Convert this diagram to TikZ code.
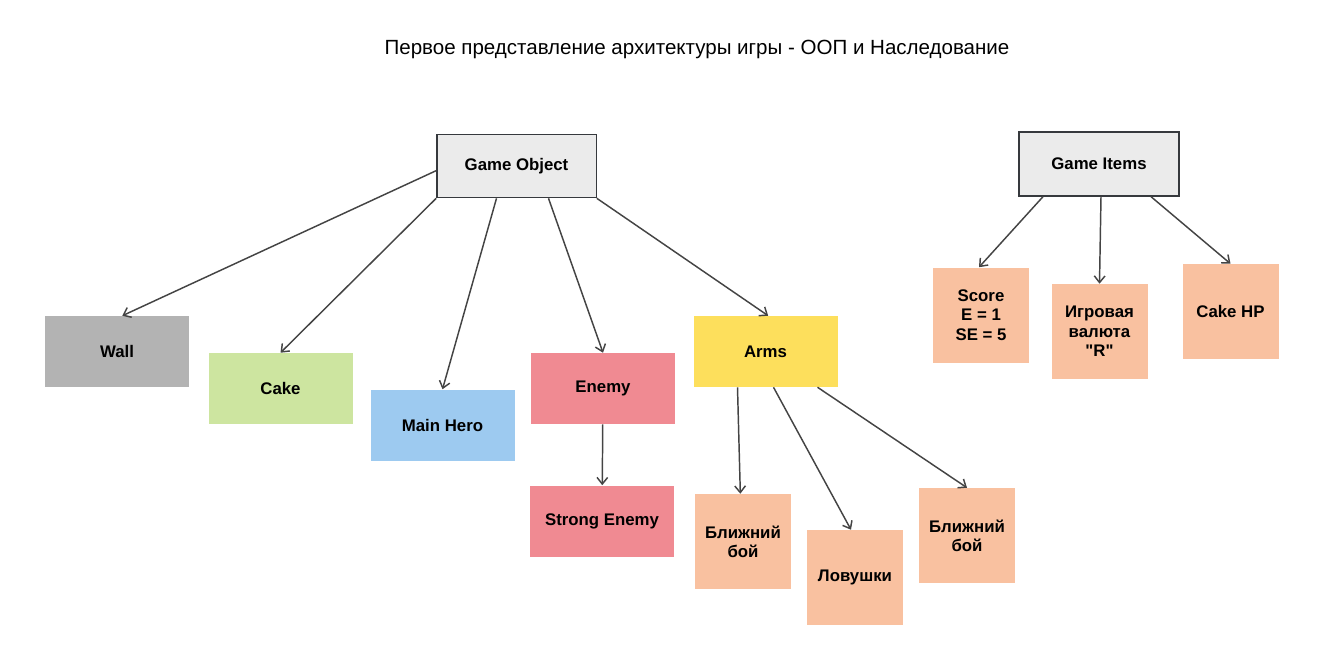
\documentclass[tikz,border=0pt]{standalone}
\usepackage{fontspec}
\setmainfont{Liberation Sans}[Ligatures=TeXOff]
\usepackage{xcolor}
\definecolor{rootfill}{RGB}{235,235,235}
\definecolor{rootline}{RGB}{54,57,61}
\definecolor{wallgray}{RGB}{179,179,179}
\definecolor{cakegreen}{RGB}{205,229,160}
\definecolor{heroblue}{RGB}{157,202,240}
\definecolor{enemyred}{RGB}{240,138,146}
\definecolor{armsyellow}{RGB}{253,223,92}
\definecolor{itemorange}{RGB}{249,193,160}
\definecolor{linegray}{RGB}{68,68,68}
\usepackage{tikz}
\usetikzlibrary{arrows.meta, positioning}

\begin{document}
\begin{tikzpicture}[x=0.75pt, y=-0.75pt,
        block/.style={rectangle, fill=#1, minimum width=108pt, minimum height=53.25pt, align=center, font=\bfseries\fontsize{12.6}{14.5}\selectfont},
        square/.style={rectangle, fill=itemorange, minimum width=72pt, minimum height=71.25pt, align=center, font=\bfseries\fontsize{12.6}{14.5}\selectfont},
        root/.style={rectangle, draw=rootline, fill=rootfill, line width=1pt, minimum width=119.5pt, minimum height=47.5pt, font=\bfseries\fontsize{12.6}{14.5}\selectfont},
        arrow/.style={-{Straight Barb[length=5pt, width=8pt]}, line width=1.1pt, color=linegray}
    ]
        \useasboundingbox (0,0) rectangle (1325,663);
        \node[font=\fontsize{15.4}{18}\selectfont] (title) at (697, 49) {Первое представление архитектуры игры - ООП и Наследование};

        % game objects
        \node[root] (object) at (516.5, 166) {Game Object};
        \node[block=wallgray] (wall) at (117, 351.5) {Wall};
        \node[block=cakegreen] (cake) at (280.5, 388.5) {Cake};
        \node[block=heroblue] (hero) at (442.5, 425) {Main Hero};
        \node[block=enemyred] (enemy) at (603, 388.5) {Enemy};
        \node[block=enemyred] (strong) at (602, 521) {Strong Enemy};
        \node[block=armsyellow] (arms) at (765.5, 351.5) {Arms};
        \node[square] (melee) at (743, 541.5) {Ближний\\бой};
        \node[square] (traps) at (855, 577.5) {Ловушки};
        \node[square] (melee2) at (967, 535.5) {Ближний\\бой};

        % game items
        \node[root, minimum width=120pt, minimum height=48pt] (items) at (1099, 164) {Game Items};
        \node[square] (score) at (981, 315) {Score\\E = 1\\SE = 5};
        \node[square] (money) at (1099.5, 331.5) {Игровая\\валюта\\"R"};
        \node[square] (cakehp) at (1230.5, 311.5) {Cake HP};

        \draw[arrow] ([yshift=-3.5pt]object.west) -- ([xshift=4pt]wall.north);
        \draw[arrow] (object.south west) -- (cake.north);
        \draw[arrow] ([xshift=-15pt]object.south) -- (hero.north);
        \draw[arrow] ([xshift=24pt]object.south) -- (enemy.north);
        \draw[arrow] (object.south east) -- ([xshift=2pt]arms.north);
        \draw[arrow] (enemy) -- (strong);
        \draw[arrow] ([xshift=-21pt]arms.south) -- ([xshift=-2pt]melee.north);
        \draw[arrow] ([xshift=6pt]arms.south) -- ([xshift=-3pt]traps.north);
        \draw[arrow] ([xshift=39pt]arms.south) -- (melee2.north);
        \draw[arrow] ([xshift=-42pt]items.south) -- ([xshift=-1.5pt]score.north);
        \draw[arrow] ([xshift=1.5pt]items.south) -- (money.north);
        \draw[arrow] ([xshift=39pt]items.south) -- (cakehp.north);
    \end{tikzpicture}
\end{document}
